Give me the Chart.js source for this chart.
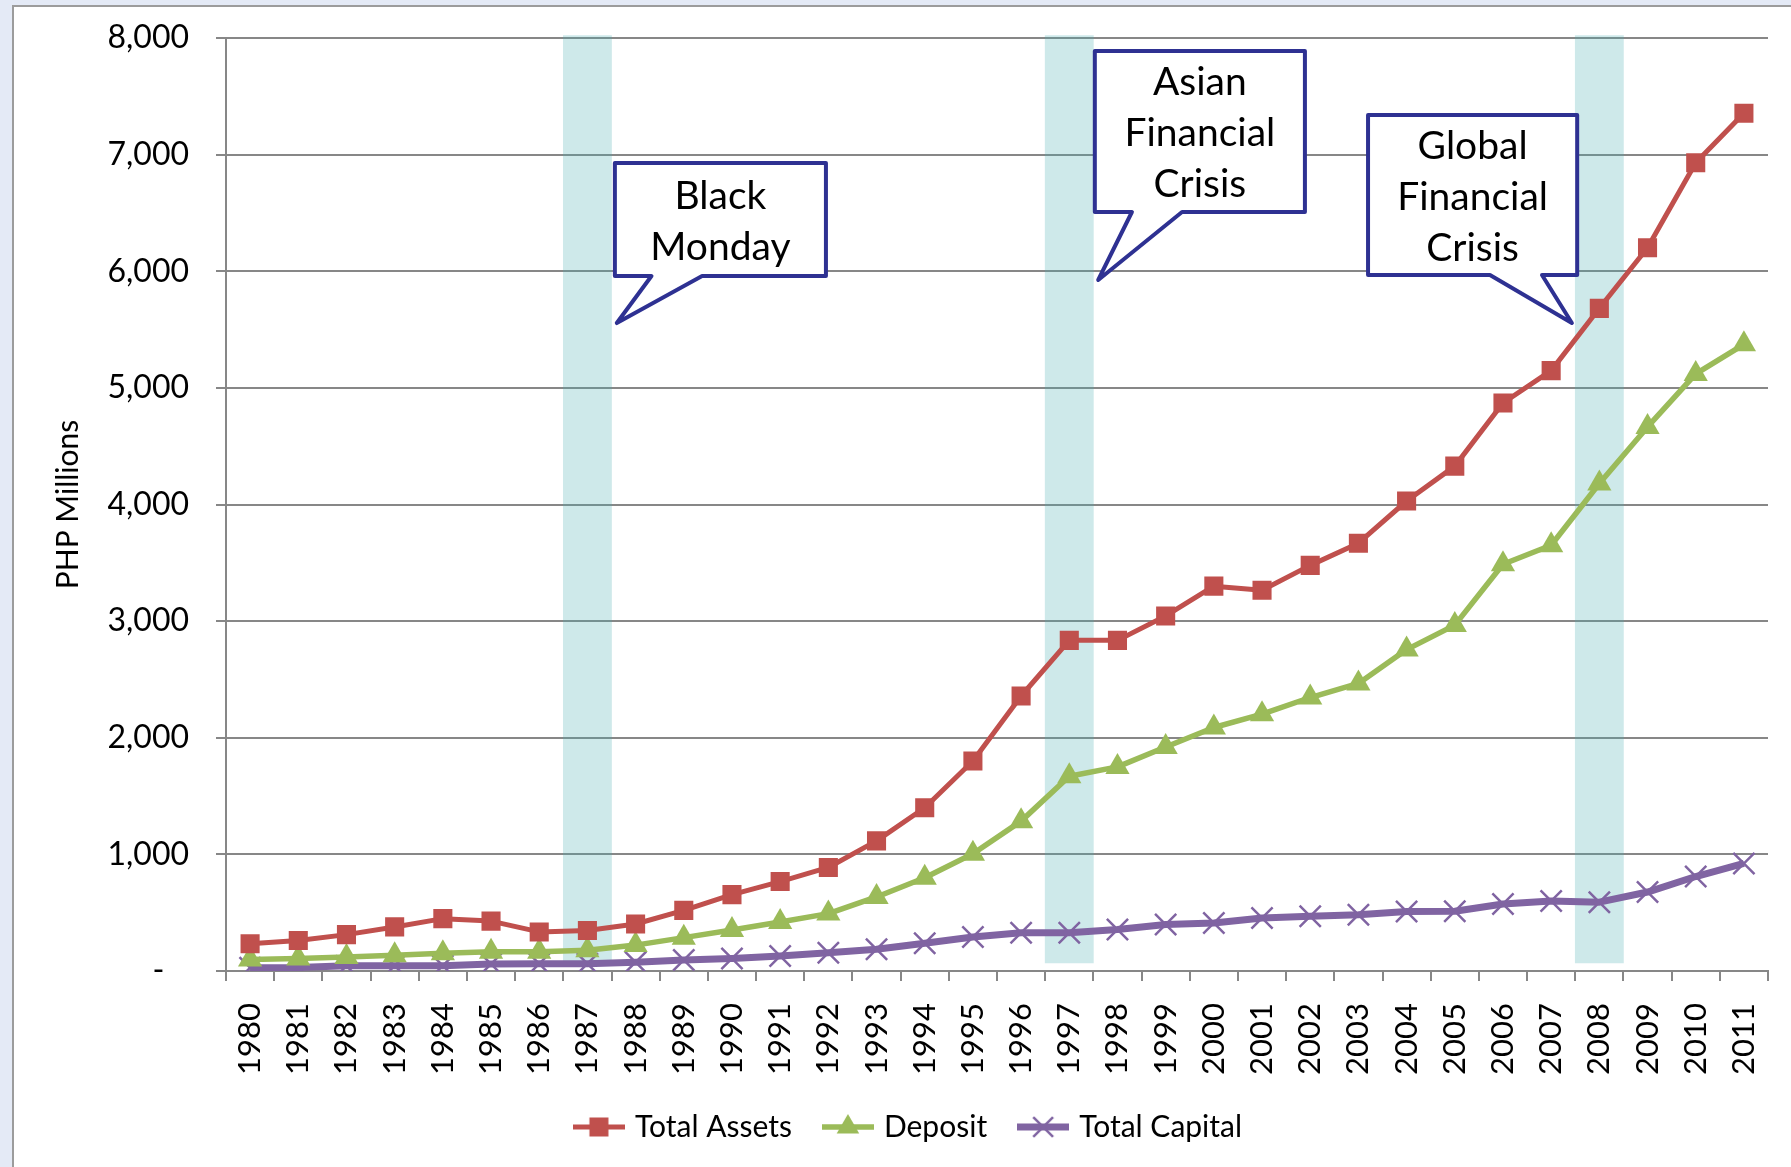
<!DOCTYPE html>
<html><head><meta charset="utf-8">
<script src="https://cdn.jsdelivr.net/npm/chart.js@4.4.1/dist/chart.umd.min.js"></script>
<style>html,body{margin:0;padding:0;background:#e4eaf6;overflow:hidden}
#wrap{position:relative;width:1791px;height:1167px}</style></head>
<body><div id="wrap"><canvas id="c"></canvas></div>
<script>
const years = ['1980','1981','1982','1983','1984','1985','1986','1987','1988','1989','1990','1991','1992','1993','1994','1995','1996','1997','1998','1999','2000','2001','2002','2003','2004','2005','2006','2007','2008','2009','2010','2011'];
const totalAssets = [233,261,312,378,449,428,335,347,403,520,655,767,888,1116,1400,1800,2358,2835,2835,3044,3300,3265,3478,3668,4030,4329,4870,5148,5682,6202,6930,7355];
const deposit = [99,108,120,136,153,165,166,178,222,286,352,420,492,635,800,1005,1285,1670,1750,1920,2088,2202,2345,2466,2756,2966,3488,3651,4180,4665,5120,5373];
const totalCapital = [28,30,44,45,46,60,62,63,76,94,108,128,156,186,238,292,328,328,356,398,412,455,469,483,511,512,574,600,590,677,810,922];
const crisisYears = ['1987','1997','2008'];
const bandLow = 70, bandHigh = 8020;
const yMin = 0, yMax = 8000, yStep = 1000;
const seriesNames = ['Total Assets','Deposit','Total Capital'];
// callouts: box [xLeft,xRight,yTop,yBottom] in (category index, value), tail base x's, tip (index, value)
const callouts = [
  {lines:['Black','Monday'], box:[7.57,11.95,6928,5959], base:[8.33,9.38], tip:[7.61,5556]},
  {lines:['Asian','Financial','Crisis'], box:[17.53,21.89,7889,6508], base:[18.30,19.34], tip:[17.60,5925]},
  {lines:['Global','Financial','Crisis'], box:[23.20,27.54,7340,5968], base:[25.73,26.81], tip:[27.43,5556]}
];

const RED='#c0504d', GREEN='#9bbb59', PURPLE='#8064a2', NAVY='#2e3192', GRID='#878787';
const FONT='Lato';

function swatch(kind,color,lw){
  const c=document.createElement('canvas'); c.width=52; c.height=30;
  const g=c.getContext('2d');
  g.strokeStyle=color; g.fillStyle=color; g.lineWidth=lw;
  g.beginPath(); g.moveTo(0,15); g.lineTo(52,15); g.stroke();
  if(kind==='rect'){ g.fillRect(26-9.5,15-9.5,19,19); }
  else if(kind==='triangle'){ const r=13; g.beginPath();
    g.moveTo(26,15-r); g.lineTo(26+r*Math.sin(2*Math.PI/3),15-r*Math.cos(2*Math.PI/3));
    g.lineTo(26+r*Math.sin(4*Math.PI/3),15-r*Math.cos(4*Math.PI/3)); g.closePath(); g.fill(); }
  else { const d=14*Math.SQRT1_2; g.lineWidth=2.5; g.beginPath();
    g.moveTo(26-d,15-d); g.lineTo(26+d,15+d); g.moveTo(26+d,15-d); g.lineTo(26-d,15+d); g.stroke(); }
  return c;
}
const swatches=[swatch('rect',RED,5),swatch('triangle',GREEN,5.5),swatch('cross',PURPLE,7)];

const framePlugin={id:'frame',beforeDraw(chart){
  const ctx=chart.ctx; ctx.save();
  ctx.fillStyle='#e4eaf6'; ctx.fillRect(0,0,chart.width,chart.height);
  ctx.fillStyle='#ffffff'; ctx.fillRect(13,6,chart.width-13,chart.height-6);
  ctx.strokeStyle='#9c9c9c'; ctx.lineWidth=2;
  ctx.beginPath(); ctx.moveTo(13,chart.height); ctx.lineTo(13,6); ctx.lineTo(chart.width,6); ctx.stroke();
  ctx.restore();
  // nudge legend to the right like the original
  const lg=chart.legend;
  if(lg && lg._origLeft===undefined){ lg._origLeft=lg.left; lg._origRight=lg.right; }
  if(lg){ lg.left=lg._origLeft+19.5; lg.right=lg._origRight+19.5; }
}};

const calloutPlugin={id:'callouts',afterDraw(chart){
  const ctx=chart.ctx, xs=chart.scales.x, ys=chart.scales.y;
  const X=v=>xs.getPixelForValue(v), Y=v=>ys.getPixelForValue(v);
  callouts.forEach(c=>{
    const l=X(c.box[0]), r=X(c.box[1]), t=Y(c.box[2]), b=Y(c.box[3]);
    const b1=X(c.base[0]), b2=X(c.base[1]), tx=X(c.tip[0]), ty=Y(c.tip[1]);
    ctx.save();
    ctx.beginPath(); ctx.moveTo(l,t); ctx.lineTo(r,t); ctx.lineTo(r,b);
    ctx.lineTo(b2,b); ctx.lineTo(tx,ty); ctx.lineTo(b1,b); ctx.lineTo(l,b); ctx.closePath();
    ctx.fillStyle='#ffffff'; ctx.fill();
    ctx.strokeStyle=NAVY; ctx.lineWidth=4; ctx.lineJoin='round'; ctx.stroke();
    ctx.fillStyle='#000'; ctx.font='39px '+FONT; ctx.textAlign='center'; ctx.textBaseline='middle';
    const lh=51, cy=(t+b)/2+2, cx=(l+r)/2;
    c.lines.forEach((s,i)=>ctx.fillText(s,cx,cy+(i-(c.lines.length-1)/2)*lh));
    ctx.restore();
  });
}};

const bandData = years.map(y=>crisisYears.includes(y)?[bandLow,bandHigh]:null);

new Chart(document.getElementById('c'),{
  data:{labels:years,datasets:[
    {type:'line',label:seriesNames[0],data:totalAssets,borderColor:RED,backgroundColor:RED,borderWidth:5,
     pointStyle:'rect',pointRadius:13.5,pointBorderWidth:0,pointBackgroundColor:RED,tension:0,borderJoinStyle:'round',order:1},
    {type:'line',label:seriesNames[1],data:deposit,borderColor:GREEN,backgroundColor:GREEN,borderWidth:5.5,
     pointStyle:'triangle',pointRadius:14,pointBorderWidth:0,pointBackgroundColor:GREEN,tension:0,borderJoinStyle:'round',order:2},
    {type:'line',label:seriesNames[2],data:totalCapital,borderColor:PURPLE,backgroundColor:PURPLE,borderWidth:7,
     pointStyle:'crossRot',pointRadius:15,pointBorderWidth:2.5,pointBorderColor:PURPLE,tension:0,borderJoinStyle:'round',order:3},
    {type:'bar',label:'band',data:bandData,backgroundColor:'rgba(75,172,178,0.27)',borderWidth:0,
     barPercentage:1,categoryPercentage:1,order:10,clip:false}
  ]},
  options:{
    responsive:true,maintainAspectRatio:false,animation:false,events:[],devicePixelRatio:1,
    layout:{autoPadding:false,padding:{left:13,right:23,top:38,bottom:15}},
    scales:{
      x:{offset:true,
        grid:{offset:true,drawOnChartArea:false,drawTicks:true,tickLength:10,color:GRID,lineWidth:2},
        border:{display:true,color:GRID,width:2},
        ticks:{autoSkip:false,minRotation:90,maxRotation:90,padding:22,color:'#000',font:{family:FONT,size:31}},
        afterFit(s){s.height=106; s.paddingLeft=0; s.paddingRight=0; s.paddingTop=0; s.paddingBottom=0;}
      },
      y:{min:yMin,max:yMax,
        grid:{color:GRID,lineWidth:2,tickLength:10,drawTicks:true},
        border:{display:true,color:GRID,width:2},
        ticks:{stepSize:yStep,padding:27,color:'#000',font:{family:FONT,size:32},
          callback:v=>v===0?'-   ':v.toLocaleString('en-US')},
        title:{display:true,text:'PHP Millions',color:'#000',font:{family:FONT,size:30},padding:{top:37,bottom:0}},
        afterFit(s){s.width=213; s.paddingLeft=0; s.paddingRight=0; s.paddingTop=0; s.paddingBottom=0;}
      }
    },
    plugins:{
      tooltip:{enabled:false},
      legend:{position:'bottom',labels:{usePointStyle:true,pointStyleWidth:42,boxHeight:26,padding:35,color:'#000',
        font:{family:FONT,size:30},
        generateLabels(chart){
          return chart.data.datasets.map((d,i)=>({text:d.label,datasetIndex:i,pointStyle:swatches[i],
            fillStyle:d.borderColor,strokeStyle:d.borderColor,lineWidth:0,hidden:false,fontColor:'#000'})).filter(it=>it.text!=='band');
        }}}
    }
  },
  plugins:[framePlugin,calloutPlugin]
});
</script></body></html>
